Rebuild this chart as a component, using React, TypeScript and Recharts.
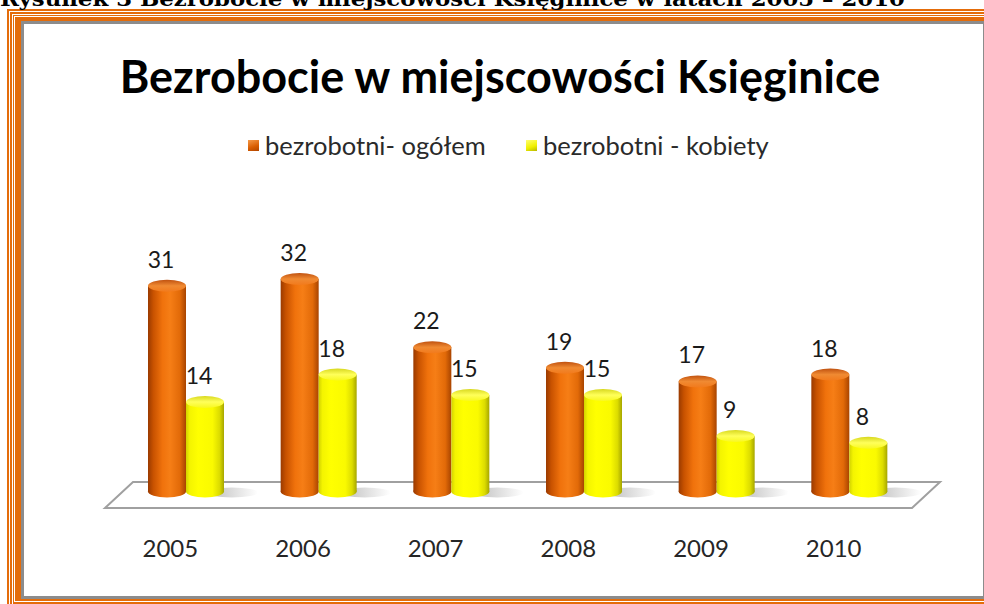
import { BarChart, Bar, XAxis, YAxis, LabelList } from 'recharts'

const years = ['2005', '2006', '2007', '2008', '2009', '2010']
const ogolem = [31, 32, 22, 19, 17, 18]
const kobiety = [14, 18, 15, 15, 9, 8]
const seriesNames = ['bezrobotni- ogółem', 'bezrobotni - kobiety']

const data = years.map((year, i) => ({ year, ogolem: ogolem[i], kobiety: kobiety[i] }))

const W = 984
const H = 604
const PLOT_LEFT = 120
const PLOT_RIGHT = 916
const PLOT_TOP = 258.5
const BASE = 497.5
const X_AXIS_H = 40
const RY = 6

const ORANGE = '#e46c0a'
const FONT = 'Lato, "Open Sans", sans-serif'

function Cylinder(props: any) {
  const { x, y, width, height, kind } = props
  if (!width || height == null) return null
  const cx = x + width / 2
  const rx = width / 2
  const bottom = y + height - RY
  const body = kind === 'o' ? 'url(#bodyO)' : 'url(#bodyY)'
  const cap = kind === 'o' ? 'url(#capO)' : 'url(#capY)'
  return (
    <g>
      <defs>
        <linearGradient id="bodyO" x1="0" y1="0" x2="1" y2="0">
          <stop offset="0" stopColor="#9a3a00" />
          <stop offset="0.14" stopColor="#c85200" />
          <stop offset="0.38" stopColor="#f0720c" />
          <stop offset="0.58" stopColor="#f67e16" />
          <stop offset="0.84" stopColor="#e26a08" />
          <stop offset="1" stopColor="#a84400" />
        </linearGradient>
        <linearGradient id="capO" x1="0" y1="0" x2="0" y2="1">
          <stop offset="0" stopColor="#c05210" />
          <stop offset="0.5" stopColor="#f08a32" />
          <stop offset="1" stopColor="#f27a1c" />
        </linearGradient>
        <linearGradient id="bodyY" x1="0" y1="0" x2="1" y2="0">
          <stop offset="0" stopColor="#d2d200" />
          <stop offset="0.1" stopColor="#f4f400" />
          <stop offset="0.32" stopColor="#ffff00" />
          <stop offset="0.7" stopColor="#fafa00" />
          <stop offset="0.88" stopColor="#dcdc00" />
          <stop offset="1" stopColor="#a6a600" />
        </linearGradient>
        <linearGradient id="capY" x1="0" y1="0" x2="0" y2="1">
          <stop offset="0" stopColor="#d8d820" />
          <stop offset="0.5" stopColor="#ffff5a" />
          <stop offset="1" stopColor="#f8f820" />
        </linearGradient>
        <linearGradient id="shadowG" x1="0" y1="0" x2="1" y2="0">
          <stop offset="0" stopColor="#808080" stopOpacity="0.55" />
          <stop offset="1" stopColor="#808080" stopOpacity="0" />
        </linearGradient>
      </defs>
      {kind === 'y' && (
        <ellipse cx={x + width + 8} cy={bottom + 1} rx={26} ry={RY - 1} fill="url(#shadowG)" />
      )}
      <rect x={x} y={y} width={width} height={bottom - y} fill={body} />
      <ellipse cx={cx} cy={bottom} rx={rx} ry={RY} fill={body} />
      <ellipse cx={cx} cy={y} rx={rx} ry={RY} fill={cap} />
    </g>
  )
}

function YearTick(props: any) {
  const { x, y, payload } = props
  return (
    <text x={x - 16} y={y + 59} textAnchor="middle" fontFamily={FONT} fontSize={24} fill="#262626">
      {payload.value}
    </text>
  )
}

function valueLabel(props: any) {
  const { x, y, width, value } = props
  return (
    <text x={x + width / 2 - 6} y={y - 18} textAnchor="middle" fontFamily={FONT} fontSize={23} fill="#1a1a1a">
      {value}
    </text>
  )
}

// ramka: koncentryczne paski
const frame: [number, number, number, number, string][] = [
  [7, 9, 1020, 630, ORANGE],
  [9, 11, 1018, 628, '#fff'],
  [10, 12, 1016, 626, ORANGE],
  [11.5, 13.5, 1014, 624, '#fff'],
  [12.5, 14.5, 1012, 622, ORANGE],
  [14, 16, 989, 602, '#fff'],
  [15, 17, 988, 601, ORANGE],
  [21, 21, 985.5, 599, '#8c8c8c'],
  [24, 24, 982.5, 596, '#fff'],
]

export default function App() {
  const floor = [
    [PLOT_LEFT - 15, BASE + 10.5],
    [PLOT_LEFT + 13, BASE - 15.5],
    [PLOT_RIGHT + 24, BASE - 15.5],
    [PLOT_RIGHT - 4, BASE + 10.5],
  ]
    .map((p) => p.join(','))
    .join(' ')

  return (
    <div style={{ position: 'absolute', left: 0, top: 0, width: W, height: H, overflow: 'hidden', background: '#fff' }}>
      {frame.map(([l, t, r, b, c], i) => (
        <div key={i} style={{ position: 'absolute', left: l, top: t, width: r - l, height: b - t, background: c }} />
      ))}

      <svg width={W} height={30} style={{ position: 'absolute', left: 0, top: 0 }}>
        <text x={0} y={6} fontFamily='"DejaVu Serif", serif' fontWeight="bold" fontSize={21} textLength={905} lengthAdjust="spacingAndGlyphs" fill="#000">
          Rysunek 3 Bezrobocie w miejscowości Księginice w latach 2005 – 2010
        </text>
      </svg>

      <div style={{ position: 'absolute', left: 0, width: 1000, top: 49, textAlign: 'center', fontFamily: FONT, fontWeight: 700, fontSize: 45, color: '#000' }}>
        Bezrobocie w miejscowości Księginice
      </div>

      <div style={{ position: 'absolute', left: 248, top: 130, fontFamily: FONT, fontSize: 25.5, color: '#2a2a2a', display: 'flex', alignItems: 'center' }}>
        <span style={{ width: 11, height: 11, background: 'linear-gradient(160deg, #f59a4a, #d85c00 60%, #b04600)', marginRight: 6 }} />
        <span>{seriesNames[0]}</span>
      </div>
      <div style={{ position: 'absolute', left: 526, top: 130, fontFamily: FONT, fontSize: 25.5, color: '#2a2a2a', display: 'flex', alignItems: 'center' }}>
        <span style={{ width: 11, height: 11, background: 'linear-gradient(160deg, #ffff70, #f0f000 60%, #b8b800)', marginRight: 6 }} />
        <span>{seriesNames[1]}</span>
      </div>

      <svg width={W} height={H} style={{ position: 'absolute', left: 0, top: 0 }}>
        <polygon points={floor} fill="#fff" stroke="#a0a0a0" strokeWidth={2} strokeLinejoin="miter" />
      </svg>

      <div style={{ position: 'absolute', left: 0, top: 0 }}>
        <BarChart
          width={W}
          height={H}
          data={data}
          margin={{ top: PLOT_TOP, right: W - PLOT_RIGHT, bottom: H - BASE - X_AXIS_H, left: PLOT_LEFT }}
          barGap={0}
          barSize={38}
        >
          <XAxis
            dataKey="year"
            height={X_AXIS_H}
            axisLine={false}
            tickLine={false}
            tickSize={0}
            tickMargin={0}
            interval={0}
            tick={<YearTick />}
          />
          <YAxis hide domain={[0, 35]} />
          <Bar dataKey="ogolem" name={seriesNames[0]} shape={<Cylinder kind="o" />} isAnimationActive={false}>
            <LabelList dataKey="ogolem" content={valueLabel} />
          </Bar>
          <Bar dataKey="kobiety" name={seriesNames[1]} shape={<Cylinder kind="y" />} isAnimationActive={false}>
            <LabelList dataKey="kobiety" content={valueLabel} />
          </Bar>
        </BarChart>
      </div>
    </div>
  )
}
